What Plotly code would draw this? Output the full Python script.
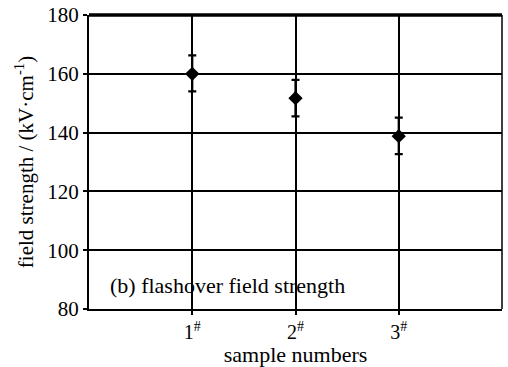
import plotly.graph_objects as go

samples = [1, 2, 3]
tick_labels = ["1<sup>#</sup>", "2<sup>#</sup>", "3<sup>#</sup>"]
field_strength = [160.0, 151.7, 138.8]
err_plus = [6.3, 6.2, 6.3]
err_minus = [6.0, 6.2, 6.1]

FONT = "Liberation Serif, Times New Roman, serif"

fig = go.Figure()
fig.add_trace(go.Scatter(
    x=samples, y=field_strength, mode="markers",
    marker=dict(symbol="diamond", size=11, color="black"),
    error_y=dict(type="data", symmetric=False, array=err_plus, arrayminus=err_minus,
                 color="black", thickness=2.2, width=4),
    showlegend=False,
))

fig.update_layout(
    width=508, height=367,
    margin=dict(l=89, r=6, t=15, b=58),
    paper_bgcolor="white", plot_bgcolor="white",
    font=dict(family=FONT, size=20, color="black"),
    xaxis=dict(
        range=[0, 4], tickvals=samples, ticktext=tick_labels,
        showgrid=True, gridcolor="black", gridwidth=1.5,
        showline=True, linecolor="black", linewidth=2, mirror=False,
        ticks="outside", ticklen=4, tickwidth=1.5, tickcolor="black",
        zeroline=False, automargin=False,
        title=dict(text="sample numbers", font=dict(size=22), standoff=5),
        tickfont=dict(size=20),
    ),
    yaxis=dict(
        range=[80, 180], tickvals=[80, 100, 120, 140, 160, 180],
        showgrid=True, gridcolor="black", gridwidth=1.5,
        showline=True, linecolor="black", linewidth=2,
        ticks="outside", ticklen=4, tickwidth=1.5, tickcolor="black",
        zeroline=False, automargin=False,
        title=dict(text="field strength / (kV·cm<sup>-1</sup>)", font=dict(size=21), standoff=8),
        tickfont=dict(size=21),
    ),
    shapes=[
        dict(type="line", xref="paper", yref="paper", x0=0, x1=1, y0=1, y1=1,
             line=dict(color="black", width=3.5)),
        dict(type="line", xref="paper", yref="paper", x0=1, x1=1, y0=0, y1=1,
             line=dict(color="black", width=1.5)),
    ],
    annotations=[
        dict(text="(b) flashover field strength", xref="paper", yref="y",
             x=0.045, y=88, xanchor="left", yanchor="middle", showarrow=False,
             font=dict(size=22)),
    ],
)

fig.write_html("out.html", config={"displayModeBar": False},
               post_script="document.body.style.margin='0';document.body.style.overflow='hidden';")
